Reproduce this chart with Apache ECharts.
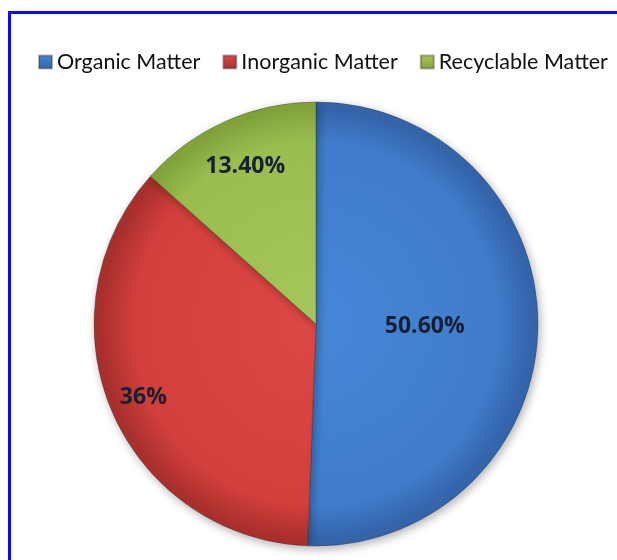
<!DOCTYPE html>
<html>
<head>
<meta charset="utf-8">
<script src="https://cdn.jsdelivr.net/npm/echarts@6/dist/echarts.min.js"></script>
<style>
html,body{margin:0;padding:0;background:#fff;}
#chart{width:617px;height:560px;}
</style>
</head>
<body>
<div id="chart"></div>
<script>
// Data
var categories = ['Organic Matter', 'Inorganic Matter', 'Recyclable Matter'];
var values = [50.6, 36, 13.4];
var valueLabels = ['50.60%', '36%', '13.40%'];

// Styling (not data)
var centerPx = [316, 324];
var radiusPx = 222;
var labelRadiusFrac = [0.49, 0.845, 0.78];
var gradStops = [
  ['#4787d7', '#3f7ccb', '#3464aa'],
  ['#dc4845', '#d23f3c', '#aa302d'],
  ['#a6c85a', '#9bbd50', '#83a43a']
];

function radial(c) {
  return new echarts.graphic.RadialGradient(centerPx[0], centerPx[1], radiusPx, [
    {offset: 0, color: c[0]},
    {offset: 0.82, color: c[1]},
    {offset: 0.97, color: c[2]},
    {offset: 1, color: c[2]}
  ], true);
}
function legendGrad(c) {
  return new echarts.graphic.LinearGradient(0, 0, 0, 1, [
    {offset: 0, color: c[0]},
    {offset: 1, color: c[2]}
  ]);
}

var chart = echarts.init(document.getElementById('chart'), null, {renderer: 'canvas'});

var data = categories.map(function (name, i) {
  return {
    name: name,
    value: values[i],
    itemStyle: {color: radial(gradStops[i])}
  };
});

chart.setOption({
  backgroundColor: '#ffffff',
  animation: false,
  graphic: [{
    type: 'rect',
    shape: {x: 9.5, y: 12.5, width: 800, height: 800},
    style: {fill: 'none', stroke: '#0a0aff', lineWidth: 3},
    z: 100
  }],
  legend: {
    data: categories.map(function (n, i) {
      return {name: n, itemStyle: {color: legendGrad(gradStops[i])}};
    }),
    left: 38,
    top: 51,
    padding: 0,
    icon: 'rect',
    itemWidth: 13,
    itemHeight: 13,
    itemGap: 22,
    textStyle: {fontFamily: 'Lato', fontSize: 21.5, color: '#111'},
    selectedMode: false
  },
  series: [{
    type: 'pie',
    center: centerPx,
    radius: radiusPx,
    startAngle: 90,
    clockwise: true,
    silent: true,
    data: data,
    itemStyle: {
      borderColor: 'rgba(40,40,40,0.35)',
      borderWidth: 1,
      shadowBlur: 10,
      shadowColor: 'rgba(0,0,0,0.3)',
      shadowOffsetX: 2,
      shadowOffsetY: 3
    },
    label: {
      show: true,
      position: 'inside',
      formatter: function (p) { return valueLabels[p.dataIndex]; },
      fontFamily: 'Open Sans',
      fontWeight: 'bold',
      fontSize: 23,
      color: '#16202e'
    },
    labelLine: {show: false},
    labelLayout: function (p) {
      var rect = p.labelRect;
      var lx = rect.x + rect.width / 2;
      var ly = rect.y + rect.height / 2;
      var dx = lx - centerPx[0];
      var dy = ly - centerPx[1];
      var d = Math.sqrt(dx * dx + dy * dy) || 1;
      var target = labelRadiusFrac[p.dataIndex] * radiusPx;
      return {dx: dx / d * (target - d), dy: dy / d * (target - d)};
    }
  }]
});
</script>
</body>
</html>
